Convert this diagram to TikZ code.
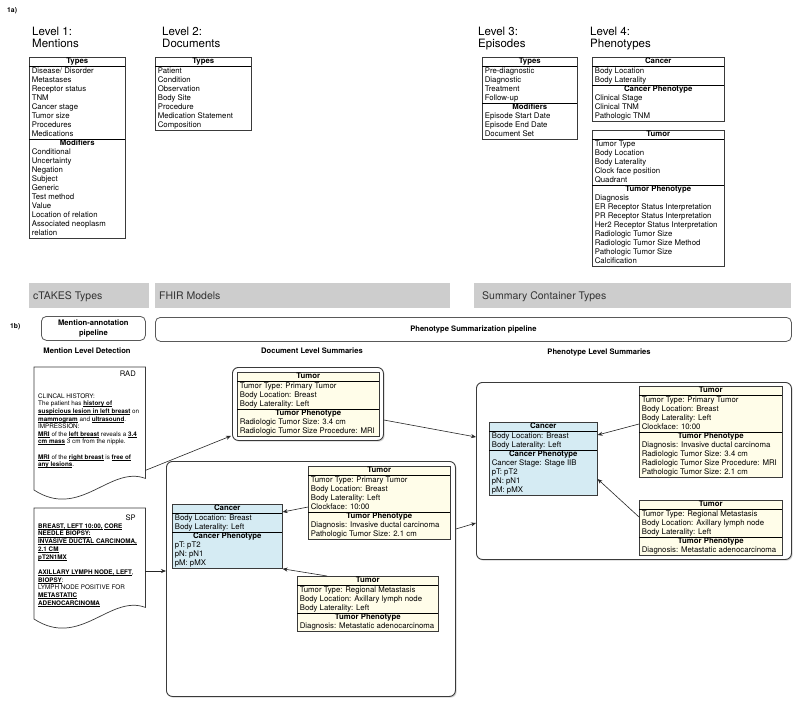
\documentclass[tikz,border=0pt]{standalone}
\usepackage{fontspec}
\setmainfont{TeX Gyre Heros}
\usepackage{array}
\usetikzlibrary{calc,arrows.meta,shadows}
\definecolor{cream}{HTML}{FFFDE9}
\definecolor{lblue}{HTML}{D5EBF3}
\definecolor{barg}{HTML}{CDCDCD}
\definecolor{bartext}{HTML}{333333}
\definecolor{edge}{HTML}{3A3A3A}
\newcommand{\thd}[1]{\multicolumn{1}{@{}c@{}}{\bfseries #1}}
\newcommand{\tb}[2]{\begin{tabular}{@{\hspace{2.5pt}}>{\raggedright\arraybackslash}p{#1}@{}}#2\end{tabular}}
\newcommand{\bu}[1]{\setbox0\hbox{\textbf{#1}}\rlap{\rule[-1pt]{\wd0}{0.4pt}}\box0\relax}
\setlength{\arrayrulewidth}{0.6pt}
\begin{document}
\begin{tikzpicture}[x=1pt,y=-1pt,
  tbl/.style={draw=edge, line width=0.6pt, inner sep=0pt, anchor=north west,
    font=\fontsize{7.8}{9}\selectfont,
    drop shadow={shadow xshift=0.8pt,shadow yshift=-0.8pt,opacity=0.3}},
  grp/.style={draw=edge, line width=0.9pt, rounded corners=6pt, fill=white, inner sep=0pt,
    anchor=north west, drop shadow={shadow xshift=1.2pt,shadow yshift=-1.2pt,opacity=0.35}},
  pipe/.style={draw=black!65, line width=0.8pt, rounded corners=5pt, inner sep=0pt,
    anchor=north west, align=center, font=\fontsize{7.6}{10}\selectfont\bfseries},
  barbox/.style={fill=barg, inner sep=0pt, anchor=north west},
  bartxt/.style={anchor=base west, inner sep=0pt, text=bartext, font=\fontsize{10.5}{12}\selectfont},
  lvl/.style={anchor=base west, inner sep=0pt, font=\fontsize{11.5}{12}\selectfont},
  sect/.style={inner sep=0pt, font=\fontsize{7.6}{9}\selectfont\bfseries},
  tag/.style={anchor=base west, inner sep=0pt, font=\fontsize{6.8}{8}\selectfont\bfseries},
  docline/.style={draw=edge, line width=0.7pt, fill=white},
  doctxt/.style={anchor=north west, inner sep=0pt, align=left,
    font=\fontsize{6.3}{7.6}\selectfont},
  arr/.style={draw=black!85, line width=0.6pt, -{Stealth[length=5pt,width=4pt]}}
]
\fill[white] (0,0) rectangle (800,705);
\useasboundingbox (0,0) rectangle (800,705);

% ---------- 1a ----------
\node[tag] (t1a) at (7,12.5) {1a)};
\node[lvl] (l1a) at (32,35) {Level 1:};
\node[lvl] (l1b) at (32,47.3) {Mentions};
\node[lvl] (l2a) at (162,35) {Level 2:};
\node[lvl] (l2b) at (162,47.3) {Documents};
\node[lvl] (l3a) at (478,35) {Level 3:};
\node[lvl] (l3b) at (478,47.3) {Episodes};
\node[lvl] (l4a) at (590,35) {Level 4:};
\node[lvl] (l4b) at (590,47.3) {Phenotypes};

\node[tbl, fill=white] (lev1) at (29,57) {\tb{93.5pt}{\thd{Types}\\\hline
Disease/ Disorder\\Metastases\\Receptor status\\TNM\\Cancer stage\\Tumor size\\Procedures\\Medications\\\hline
\thd{Modifiers}\\Conditional\\Uncertainty\\Negation\\Subject\\Generic\\Test method\\Value\\Location of relation\\Associated neoplasm\\relation}};

\node[tbl, fill=white] (lev2) at (155,57) {\tb{93.5pt}{\thd{Types}\\\hline
Patient\\Condition\\Observation\\Body Site\\Procedure\\Medication Statement\\Composition}};

\node[tbl, fill=white] (lev3) at (482,57) {\tb{92.5pt}{\thd{Types}\\\hline
Pre-diagnostic\\Diagnostic\\Treatment\\Follow-up\\\hline
\thd{Modifiers}\\Episode Start Date\\Episode End Date\\Document Set}};

\node[tbl, fill=white] (lev4a) at (592,57) {\tb{129.5pt}{\thd{Cancer}\\\hline
Body Location\\Body Laterality\\\hline
\thd{Cancer Phenotype}\\Clinical Stage\\Clinical TNM\\Pathologic TNM}};

\node[tbl, fill=white] (lev4b) at (592,130) {\tb{129.5pt}{\thd{Tumor}\\\hline
Tumor Type\\Body Location\\Body Laterality\\Clock face position\\Quadrant\\\hline
\thd{Tumor Phenotype}\\Diagnosis\\ER Receptor Status Interpretation\\PR Receptor Status Interpretation\\Her2 Receptor Status Interpretation\\Radiologic Tumor Size\\Radiologic Tumor Size Method\\Pathologic Tumor Size\\Calcification}};

% ---------- bars ----------
\node[barbox, minimum width=120, minimum height=25] (bar1) at (29,283) {};
\node[bartxt] (bar1t) at ($(bar1.west)+(4,4)$) {cTAKES Types};
\node[barbox, minimum width=295, minimum height=25] (bar2) at (155,283) {};
\node[bartxt] (bar2t) at ($(bar2.west)+(4,4)$) {FHIR Models};
\node[barbox, minimum width=317, minimum height=25] (bar3) at (474,283) {};
\node[bartxt] (bar3t) at ($(bar3.west)+(8,4)$) {Summary Container Types};

% ---------- 1b ----------
\node[tag] (t1b) at (10,328) {1b)};
\node[pipe, minimum width=104, minimum height=24] (pipe1) at (41,316) {Mention-annotation\\pipeline};
\node[pipe, minimum width=636, minimum height=24] (pipe2) at (155,317) {Phenotype Summarization pipeline};
\node[sect] (s1) at (87,351) {Mention Level Detection};
\node[sect] (s2) at (312,351) {Document Level Summaries};
\node[sect] (s3) at (599,352) {Phenotype Level Summaries};

% ---------- documents ----------
\node[inner sep=0pt, minimum width=111, minimum height=111, anchor=north west] (rad) at (34,367) {};
\draw[docline] (rad.north west) -- (rad.north east) -- (rad.south east)
  .. controls (110,465) and (80,520) .. (34,490) -- cycle;
\node[anchor=base east, inner sep=0pt, font=\fontsize{7.6}{9}\selectfont] (radlbl) at (136,376) {RAD};
\node[doctxt] (radtxt) at (38,393) {\rule{0pt}{5pt}CLINCAL HISTORY:\\
The patient has \bu{history of}\\
\bu{suspicious lesion in left breast} on\\
\bu{mammogram} and \bu{ultrasound}.\\
IMPRESSION:\\
\bu{MRI} of the \bu{left breast} reveals a \bu{3.4}\\
\bu{cm mass} 3 cm from the nipple.\\[7.6pt]
\bu{MRI} of the \bu{right breast} is \bu{free of}\\
\bu{any lesions}.};

\node[inner sep=0pt, minimum width=111, minimum height=99, anchor=north west] (sp) at (34,508) {};
\draw[docline] (sp.north west) -- (sp.north east) -- (sp.south east)
  .. controls (110,594) and (80,649) .. (34,619) -- cycle;
\node[anchor=base east, inner sep=0pt, font=\fontsize{7.6}{9}\selectfont] (splbl) at (136,520) {SP};
\node[doctxt, font=\fontsize{6.3}{7.7}\selectfont] (sptxt) at (38,523) {\rule{0pt}{5pt}\bu{BREAST, LEFT 10:00,} \bu{CORE}\\
\bu{NEEDLE BIOPSY:}\\
\bu{INVASIVE DUCTAL CARCINOMA,}\\
\bu{2.1 CM}\\
\bu{pT2N1MX}\\[7.7pt]
\bu{AXILLARY LYMPH NODE, LEFT},\\
\bu{BIOPSY}:\\
LYMPH NODE POSITIVE FOR\\
\bu{METASTATIC}\\
\bu{ADENOCARCINOMA}};

% ---------- group boxes ----------
\node[grp, minimum width=151, minimum height=73] (docsum) at (232,367) {};
\node[grp, minimum width=289, minimum height=235] (midgrp) at (166,461) {};
\node[grp, minimum width=315, minimum height=177] (rightgrp) at (476,382) {};

% ---------- summary tables ----------
\node[tbl, fill=cream] (tumorD) at (237,372) {\tb{139.5pt}{\thd{Tumor}\\\hline
Tumor Type: Primary Tumor\\Body Location: Breast\\Body Laterality: Left\\\hline
\thd{Tumor Phenotype}\\Radiologic Tumor Size: 3.4 cm\\Radiologic Tumor Size Procedure: MRI}};

\node[tbl, fill=cream] (tumorMT) at (308,466) {\tb{139.5pt}{\thd{Tumor}\\\hline
Tumor Type: Primary Tumor\\Body Location: Breast\\Body Laterality: Left\\Clockface: 10:00\\\hline
\thd{Tumor Phenotype}\\Diagnosis: Invasive ductal carcinoma\\Pathologic Tumor Size: 2.1 cm}};

\node[tbl, fill=lblue] (cancerM) at (172,504) {\tb{107.5pt}{\thd{Cancer}\\\hline
Body Location: Breast\\Body Laterality: Left\\\hline
\thd{Cancer Phenotype}\\pT: pT2\\pN: pN1\\pM: pMX}};

\node[tbl, fill=cream] (tumorMB) at (297,576) {\tb{138.5pt}{\thd{Tumor}\\\hline
Tumor Type: Regional Metastasis\\Body Location: Axillary lymph node\\Body Laterality: Left\\\hline
\thd{Tumor Phenotype}\\Diagnosis: Metastatic adenocarcinoma}};

\node[tbl, fill=lblue] (cancerR) at (489,422) {\tb{105.5pt}{\thd{Cancer}\\\hline
Body Location: Breast\\Body Laterality: Left\\\hline
\thd{Cancer Phenotype}\\Cancer Stage: Stage IIB\\pT: pT2\\pN: pN1\\pM: pMX}};

\node[tbl, fill=cream] (tumorRT) at (639,386) {\tb{140.5pt}{\thd{Tumor}\\\hline
Tumor Type: Primary Tumor\\Body Location: Breast\\Body Laterality: Left\\Clockface: 10:00\\\hline
\thd{Tumor Phenotype}\\Diagnosis: Invasive ductal carcinoma\\Radiologic Tumor Size: 3.4 cm\\Radiologic Tumor Size Procedure: MRI\\Pathologic Tumor Size: 2.1 cm}};

\node[tbl, fill=cream] (tumorRB) at (639,500) {\tb{140.5pt}{\thd{Tumor}\\\hline
Tumor Type: Regional Metastasis\\Body Location: Axillary lymph node\\Body Laterality: Left\\\hline
\thd{Tumor Phenotype}\\Diagnosis: Metastatic adenocarcinoma}};

% ---------- connectors ----------
\draw[arr] ($(rad.south east)+(0,-8)$) -- ($(docsum.south west)+(-1,-5)$);
\coordinate (spout) at ($(sp.north east)+(0,63)$);
\draw[arr] (spout) -- (spout -| midgrp.west);
\draw[arr] ($(docsum.north east)+(0,53)$) -- ($(rightgrp.north west)+(0,55)$);
\draw[arr] ($(midgrp.north east)+(0,68)$) -- ($(rightgrp.north west)+(0,141)$);
\draw[arr] ($(tumorMT.north west)+(0,41)$) -- ($(cancerM.north east)+(0,8)$);
\draw[arr] ($(tumorMB.north west)+(30,0)$) -- (cancerM.south east);
\draw[arr] ($(tumorRT.north west)+(0,38)$) -- ($(cancerR.north east)+(0,13)$);
\draw[arr] ($(tumorRB.north west)+(0,17)$) -- ($(cancerR.north east)+(0,57)$);
\end{tikzpicture}
\end{document}
